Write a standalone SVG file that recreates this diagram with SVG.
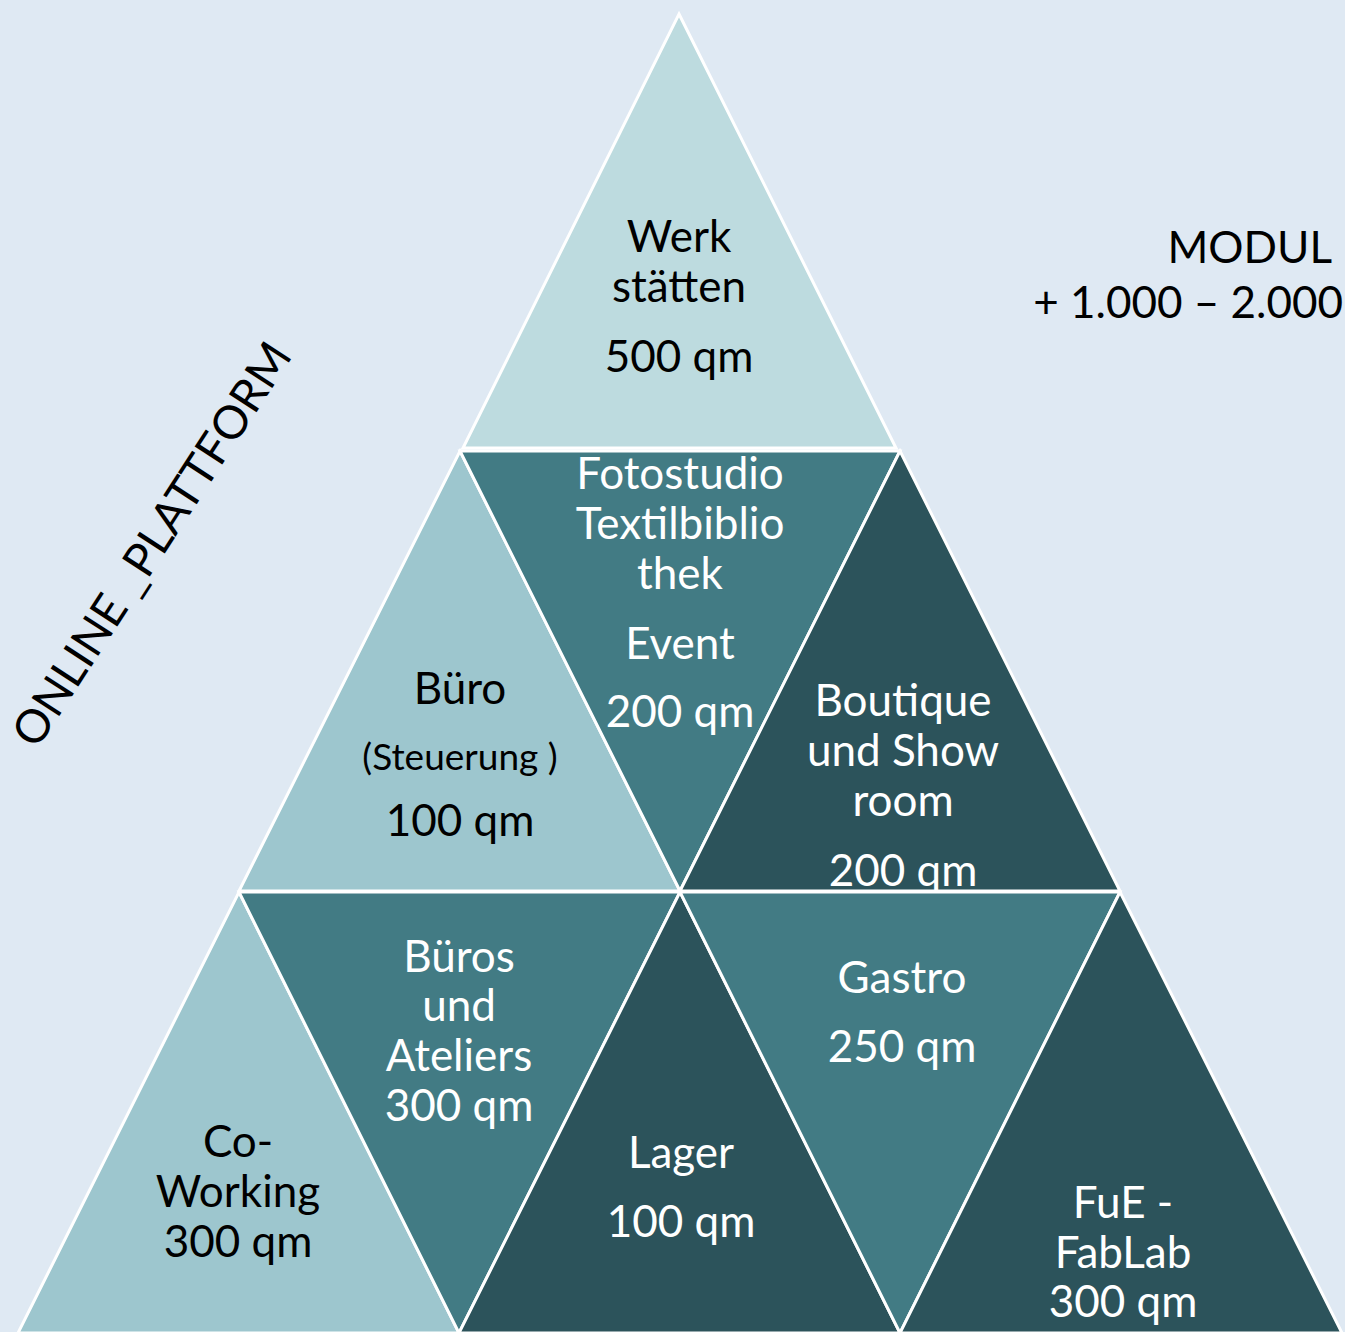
<svg xmlns="http://www.w3.org/2000/svg" width="1345" height="1332" viewBox="0 0 1345 1332">
<style>
.tri{stroke:#ffffff;stroke-width:3;stroke-linejoin:miter}
.l1{fill:#bddbdf}
.l2{fill:#9dc6ce}
.m{fill:#427b84}
.d{fill:#2c535b}
text{font-family:"Lato","Open Sans","Liberation Sans",sans-serif;font-size:44px;text-anchor:middle}
.k{fill:#000000}
.w{fill:#ffffff}
</style>
<rect x="0" y="0" width="1345" height="1332" fill="#dfe9f3"/>
<g id="werkstaetten">
<polygon class="tri l1" points="679,14 896,448 463,448"/>
<text class="k" x="679" y="252">Werk</text>
<text class="k" x="679" y="302">stätten</text>
<text class="k" x="679" y="372">500 qm</text>
</g>
<g id="buero">
<polygon class="tri l2" points="460,451 680,891 239,891"/>
<text class="k" x="460" y="704">Büro</text>
<text class="k" x="460" y="770" style="font-size:37px">(Steuerung )</text>
<text class="k" x="460" y="836">100 qm</text>
</g>
<g id="fotostudio">
<polygon class="tri m" points="460,451 900,451 680,891"/>
<text class="w" x="680" y="489">Fotostudio</text>
<text class="w" x="680" y="539">Textilbiblio</text>
<text class="w" x="680" y="589">thek</text>
<text class="w" x="680" y="659">Event</text>
<text class="w" x="680" y="727">200 qm</text>
</g>
<g id="boutique">
<polygon class="tri d" points="900,451 1120,891 680,891"/>
<text class="w" x="903" y="716">Boutique</text>
<text class="w" x="903" y="766">und Show</text>
<text class="w" x="903" y="816">room</text>
<text class="w" x="903" y="886">200 qm</text>
</g>
<g id="coworking">
<polygon class="tri l2" points="239,892 459,1333 18,1333"/>
<text class="k" x="238" y="1157">Co-</text>
<text class="k" x="238" y="1207">Working</text>
<text class="k" x="238" y="1257">300 qm</text>
</g>
<g id="bueros">
<polygon class="tri m" points="239,892 680,892 459,1333"/>
<text class="w" x="459" y="972">Büros</text>
<text class="w" x="459" y="1021">und</text>
<text class="w" x="459" y="1071">Ateliers</text>
<text class="w" x="459" y="1121">300 qm</text>
</g>
<g id="lager">
<polygon class="tri d" points="680,892 900,1333 459,1333"/>
<text class="w" x="681" y="1168">Lager</text>
<text class="w" x="681" y="1237">100 qm</text>
</g>
<g id="gastro">
<polygon class="tri m" points="680,892 1120,892 900,1333"/>
<text class="w" x="902" y="993">Gastro</text>
<text class="w" x="902" y="1062">250 qm</text>
</g>
<g id="fue">
<polygon class="tri d" points="1120,892 1342,1333 900,1333"/>
<text class="w" x="1123" y="1218">FuE -</text>
<text class="w" x="1123" y="1268">FabLab</text>
<text class="w" x="1123" y="1317">300 qm</text>
</g>
<g id="modul">
<text class="k" x="1332" y="263" style="text-anchor:end">MODUL</text>
<text class="k" x="1343" y="318" style="text-anchor:end">+ 1.000 – 2.000</text>
</g>
<g id="online">
<text class="k" transform="translate(165,553) rotate(-57)" style="font-size:46px">ONLINE _PLATTFORM</text>
</g>
<g id="connectors"></g>
</svg>
